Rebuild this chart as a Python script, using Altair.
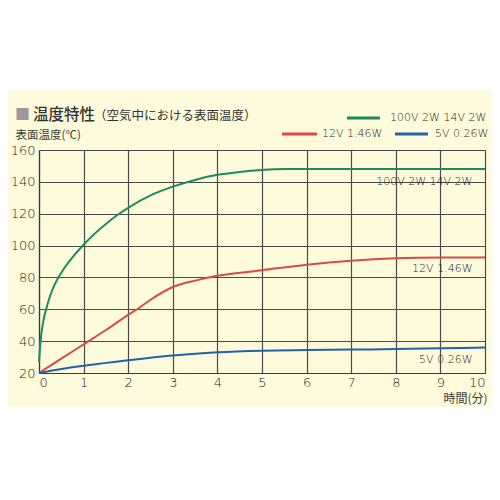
import altair as alt
import pandas as pd

FONT = "Noto Sans CJK JP"
LFONT = "DejaVu Sans"
LW = 200

# ---- data ----
green_t = [0, 0.02, 0.05, 0.1, 0.18, 0.25, 0.35, 0.5, 0.75, 1, 1.25, 1.5, 1.75, 2, 2.5, 3, 3.5, 4, 4.5, 5, 5.5, 6, 7, 8, 9, 10]
green_v = [27, 35, 44, 53, 62, 68.5, 75.5, 83, 92.6, 100.5, 107.5, 113.6, 119, 123.7, 131.5, 137, 141.2, 144.4, 146.2, 147.4, 148, 148, 148, 148, 148, 148]

red_t = [0, 0.5, 1, 1.5, 2, 2.2, 2.5, 3, 3.5, 4, 5, 6, 7, 8, 9, 10]
red_v = [20, 29, 38, 47, 56.5, 60, 66, 74, 78, 81, 84.5, 88, 90.5, 92, 92.5, 92.5]

blue_t = [0, 0.5, 1, 2, 3, 4, 5, 6, 7, 8, 9, 10]
blue_v = [20, 22.5, 24.5, 28, 31, 33, 34, 34.4, 34.7, 35, 35.5, 36]

series_names = ["100V 2W 14V 2W", "12V 1.46W", "5V 0.26W"]
series_colors = ["#1e8a5e", "#d84b47", "#2462a8"]

x_ticks = list(range(0, 11))
y_ticks = [20, 40, 60, 80, 100, 120, 140, 160]

ann_labels = ["100V 2W  14V 2W", "12V 1.46W", "5V 0.26W"]
ann_x = [9.72, 9.72, 9.72]
ann_y = [140, 85, 28]

rows = []
for name, ts, vs in zip(series_names, [green_t, red_t, blue_t], [green_v, red_v, blue_v]):
    for t, v in zip(ts, vs):
        rows.append({"series": name, "t": t, "v": v})
df = pd.DataFrame(rows)
ann = pd.DataFrame({"label": ann_labels, "x": ann_x, "y": ann_y})

xs = alt.Scale(domain=[0, 10], nice=False, zero=False)
ys = alt.Scale(domain=[20, 160], nice=False, zero=False)

x_axis = alt.Axis(
    values=x_ticks, grid=True, ticks=False, labelPadding=3, labelFontSize=13, labelOverlap=False,
    labelFontWeight=LW,
    title="時間(分)", titleX=448, titleY=25, titleAlign="right", titleBaseline="middle",
    titleFontSize=12, titleFontWeight="normal")
y_axis = alt.Axis(
    values=y_ticks, grid=True, ticks=False, labelPadding=4, labelFontSize=13, labelOverlap=False,
    labelFontWeight=LW,
    title="表面温度(℃)", titleAngle=0, titleX=-24, titleY=-15, titleAlign="left",
    titleBaseline="middle", titleFontSize=11.5, titleFontWeight="normal")

lines = alt.Chart(df).mark_line(strokeWidth=2, interpolate="monotone").encode(
    x=alt.X("t:Q", scale=xs, axis=x_axis),
    y=alt.Y("v:Q", scale=ys, axis=y_axis),
    color=alt.Color("series:N", scale=alt.Scale(domain=series_names, range=series_colors), legend=None),
    detail="series:N",
)

ann_text = alt.Chart(ann).mark_text(align="right", baseline="middle", fontSize=11, font=LFONT,
                                    fontWeight=LW, color="#222222").encode(
    x=alt.X("x:Q", scale=xs, axis=x_axis), y=alt.Y("y:Q", scale=ys, axis=y_axis), text="label:N"
)

one = pd.DataFrame({"a": [0]})
base = alt.Chart(one)

# white band above the cream box
white = base.mark_rect(color="white").encode(
    x=alt.value(-40), x2=alt.value(470), y=alt.value(-145), y2=alt.value(-60))

def txt(s, x, y, size, color="#333333", weight="normal", font=FONT):
    return base.mark_text(text=s, align="left", baseline="middle", fontSize=size, font=font,
                          color=color, fontWeight=weight).encode(x=alt.value(x), y=alt.value(y))

def seg(x1, x2, y, color):
    return base.mark_rule(color=color, strokeWidth=3).encode(
        x=alt.value(x1), x2=alt.value(x2), y=alt.value(y))

title_parts = [
    txt("■", -24, -35, 15, color="#9a9a9a"),
    txt("温度特性", -6, -35, 15.5, weight=500),
    txt("（空気中における表面温度）", 55, -34, 12.5),
]
legend_parts = [
    seg(308, 341, -32, series_colors[0]), txt("100V 2W  14V 2W", 351, -32, 11, font=LFONT, weight=LW, color="#222222"),
    seg(243, 278, -16, series_colors[1]), txt("12V 1.46W", 283, -16, 11, font=LFONT, weight=LW, color="#222222"),
    seg(356, 389, -16, series_colors[2]), txt("5V 0.26W", 396, -16, 11, font=LFONT, weight=LW, color="#222222"),
]

chart = alt.layer(white, lines, ann_text, *title_parts, *legend_parts).properties(
    width=446, height=223,
    background="#fefbdd",
    padding={"left": 31, "top": 142, "right": 7, "bottom": 34},
    autosize=alt.AutoSizeParams(type="none"),
).configure_view(stroke=None, fill=None).configure_axis(
    gridColor="#4a4a4a", gridWidth=1.2, gridOpacity=1,
    domainColor="#3a3a3a", domainWidth=1.2,
    labelColor="#222222", labelFont=LFONT, titleFont=FONT, titleColor="#3a3a3a",
)

chart.save("out.html", embed_options={"renderer": "svg", "actions": False})
